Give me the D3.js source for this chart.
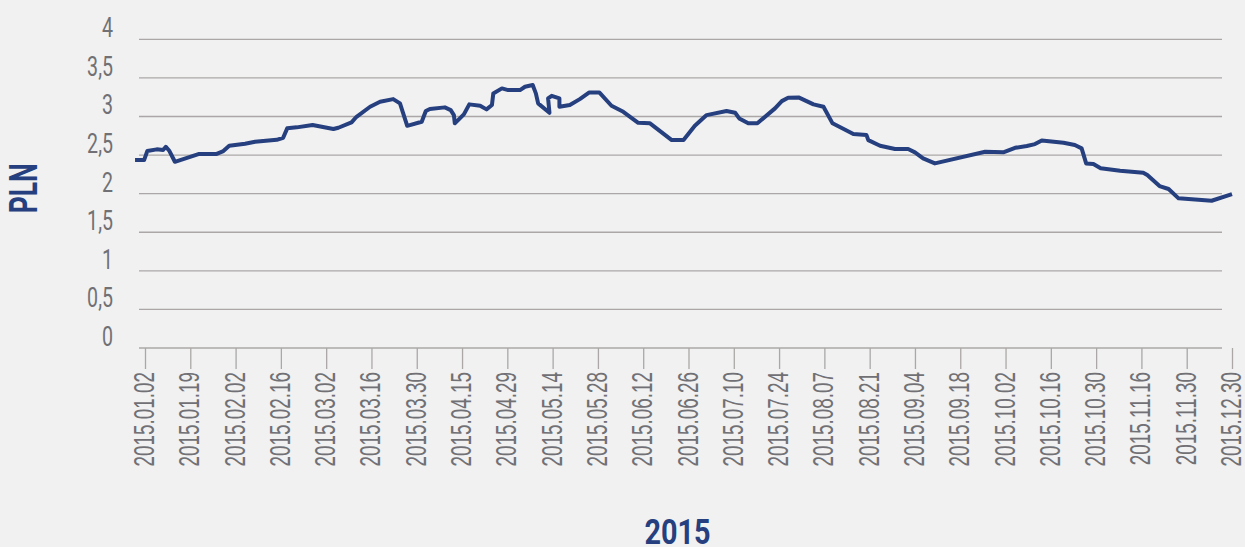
<!DOCTYPE html>
<html>

<head>
    <meta charset="utf-8">
    <style>
        body {
            margin: 0;
            background: #f1f1f1;
        }

        svg {
            display: block;
            background: #f1f1f1;
            font-family: Roboto, 'Liberation Sans', sans-serif;
        }

        .grid line {
            stroke: #aba7a7;
            stroke-width: 1.3px;
        }

        .x .tick line {
            stroke: #aba7a7;
            stroke-width: 1.3px;
        }

        .x .domain {
            display: none;
        }

        .tick text,
        .ylabel {
            font-size: 30px;
            font-weight: 400;
            fill: #707075;
        }

        .title {
            font-weight: 700;
            fill: #253f7f;
        }
    </style>
</head>

<body>
    <svg width="1245" height="547"></svg>

    <script src="https://d3js.org/d3.v7.min.js"></script>

    <script>
        let width = 1245;
        let height = 547;

        // x position = trading-day index, tick labels every 10 sessions
        let tickIdx = [0, 10, 20, 30, 40, 50, 60, 70, 80, 90, 100, 110, 120, 130, 140, 150, 160, 170, 180, 190, 200, 210, 220, 230, 240]
        let tickLabels = ["2015.01.02", "2015.01.19", "2015.02.02", "2015.02.16", "2015.03.02", "2015.03.16",
            "2015.03.30", "2015.04.15", "2015.04.29", "2015.05.14", "2015.05.28", "2015.06.12", "2015.06.26",
            "2015.07.10", "2015.07.24", "2015.08.07", "2015.08.21", "2015.09.04", "2015.09.18", "2015.10.02",
            "2015.10.16", "2015.10.30", "2015.11.16", "2015.11.30", "2015.12.30"]

        let yTicks = [0, 0.5, 1, 1.5, 2, 2.5, 3, 3.5, 4]

        // line vertices (session index, PLN)
        let dayIdx = [-2.2, -0.2, 0.5, 2.6, 4.0, 4.6, 5.4, 6.6, 11.8, 15.7, 17.3, 18.6, 22.1, 24.3, 29.1, 30.5,
            31.4, 33.5, 37.0, 41.6, 42.7, 45.6, 46.7, 49.7, 51.9, 54.8, 56.3, 56.9, 57.9, 61.1, 62.0, 62.9,
            66.2, 67.5, 68.2, 68.4, 70.4, 71.6, 74.0, 75.4, 76.6, 76.9, 78.8, 80.2, 82.8, 83.9, 85.6, 86.3,
            86.8, 89.3, 89.0, 89.8, 91.5, 91.5, 93.8, 96.0, 98.1, 100.3, 103.0, 105.6, 108.9, 111.5, 116.3,
            118.9, 121.4, 124.0, 128.4, 130.3, 131.2, 133.2, 135.2, 139.1, 140.6, 142.0, 144.3, 147.6, 149.8,
            151.8, 156.4, 159.3, 159.7, 162.3, 165.6, 168.5, 170.0, 171.8, 174.4, 185.5, 189.5, 192.1, 194.7,
            196.5, 198.0, 202.8, 205.3, 206.8, 207.8, 209.4, 211.0, 215.3, 220.4, 221.3, 224.0, 226.0, 228.2,
            235.5, 240.0]
        let pln = [2.435, 2.435, 2.552, 2.574, 2.565, 2.607, 2.552, 2.413, 2.513, 2.513, 2.552, 2.620, 2.646,
            2.672, 2.698, 2.724, 2.846, 2.859, 2.889, 2.837, 2.854, 2.923, 2.996, 3.126, 3.190, 3.225, 3.170,
            3.061, 2.879, 2.931, 3.070, 3.096, 3.118, 3.083, 3.018, 2.911, 3.027, 3.157, 3.139, 3.092, 3.148,
            3.299, 3.364, 3.342, 3.342, 3.385, 3.407, 3.299, 3.170, 3.048, 3.234, 3.268, 3.234, 3.126, 3.148,
            3.225, 3.312, 3.312, 3.139, 3.061, 2.918, 2.911, 2.694, 2.694, 2.879, 3.018, 3.070, 3.048, 2.975,
            2.911, 2.911, 3.105, 3.199, 3.242, 3.247, 3.157, 3.126, 2.911, 2.772, 2.759, 2.694, 2.620, 2.578,
            2.578, 2.535, 2.457, 2.392, 2.543, 2.535, 2.594, 2.617, 2.642, 2.690, 2.659, 2.630, 2.587, 2.392,
            2.383, 2.328, 2.297, 2.271, 2.241, 2.098, 2.060, 1.939, 1.908, 1.995]

        let svg = d3.select("svg")

        let x = d3.scaleLinear()
            .domain([0, 240])
            .range([145, 1232])

        let y = d3.scaleLinear()
            .domain([0, 4])
            .range([348, 39.3])

        let gridLeft = 139
        let gridRight = 1222

        // horizontal gridlines (incl. the zero baseline)
        svg.append("g")
            .attr("class", "grid")
            .selectAll("line")
            .data(yTicks)
            .join("line")
            .attr("x1", gridLeft)
            .attr("x2", gridRight)
            .attr("y1", d => y(d))
            .attr("y2", d => y(d))

        // y labels, comma decimals
        svg.append("g")
            .selectAll("text")
            .data(yTicks)
            .join("text")
            .attr("class", "ylabel")
            .attr("text-anchor", "end")
            .attr("transform", d => `translate(113, ${y(d) - 2}) scale(0.7, 1)`)
            .style("font-size", "28px")
            .text(d => String(d).replace(".", ","))

        let xAxisSettings = d3.axisBottom(x)
            .tickValues(tickIdx)
            .tickSize(21)
            .tickFormat((d, i) => tickLabels[i])

        let xAxisTicks = svg.append("g")
            .attr("class", "x axis")
            .attr("transform", `translate(0, ${y(0)})`)
            .call(xAxisSettings)

        xAxisTicks.selectAll(".tick text")
            .attr("x", null)
            .attr("y", null)
            .attr("dy", null)
            .attr("text-anchor", "end")
            .attr("transform", "translate(8.5, 24) rotate(-90) scale(0.63, 1)")
            .attr("fill", "#707075")

        let line = d3.line()
            .x((d, i) => x(dayIdx[i]))
            .y(d => y(d))

        svg.append("path")
            .datum(pln)
            .attr("d", line)
            .style("fill", "none")
            .style("stroke", "#253f7f")
            .style("stroke-width", "4px")
            .style("stroke-linejoin", "round")

        // axis titles
        svg.append("text")
            .attr("class", "title")
            .attr("text-anchor", "middle")
            .attr("transform", "translate(37.3, 188.3) rotate(-90) scale(0.68, 1)")
            .style("font-size", "39px")
            .text("PLN")

        svg.append("text")
            .attr("class", "title")
            .attr("text-anchor", "middle")
            .attr("transform", "translate(677.5, 544) scale(0.8, 1)")
            .style("font-size", "36px")
            .text("2015")
    </script>
</body>

</html>
